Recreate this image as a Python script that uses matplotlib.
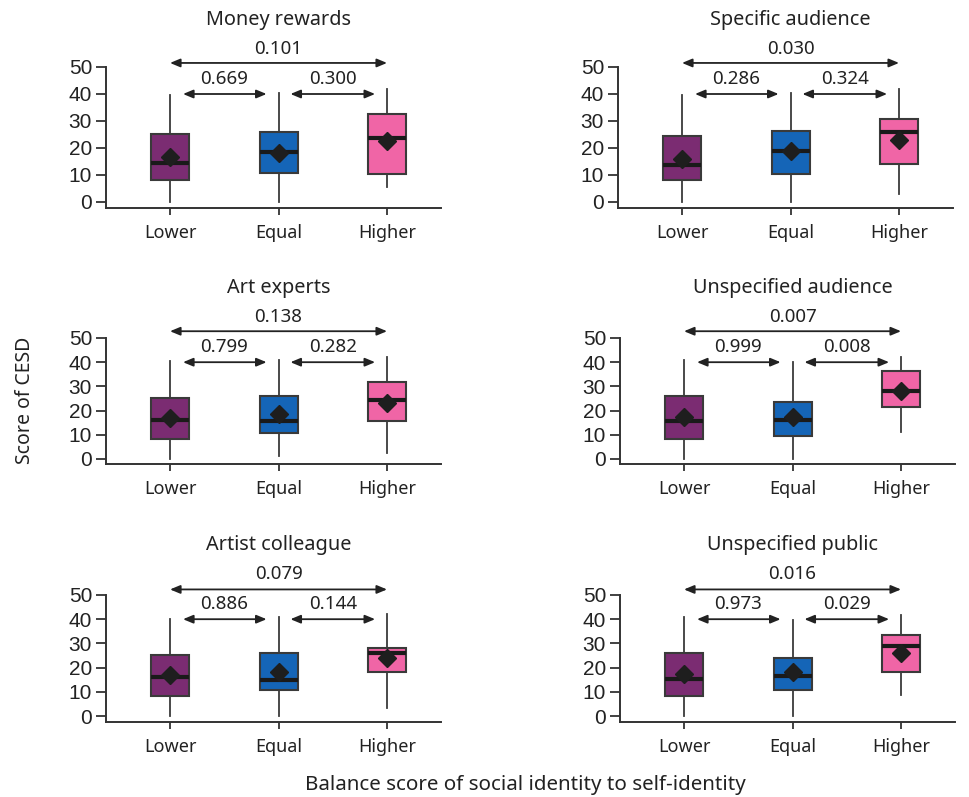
import matplotlib
matplotlib.use("Agg")
import matplotlib.pyplot as plt

# ---------------- data ----------------
groups = ["Lower", "Equal", "Higher"]
panel_titles = ["Money rewards", "Specific audience", "Art experts",
                "Unspecified audience", "Artist colleague", "Unspecified public"]

# per panel, per group: [whislo, q1, median, q3, whishi]
money_rewards = [[0, 8.0, 14.4, 25.0, 39.5], [0, 10.9, 18.5, 25.8, 40.4], [5.6, 10.2, 23.8, 32.7, 41.7]]
specific_audience = [[0, 8.0, 13.7, 24.3, 39.5], [0, 10.5, 18.9, 26.2, 40.4], [3.1, 14.0, 25.9, 30.6, 41.7]]
art_experts = [[0, 8.1, 16.0, 25.4, 40.6], [1.2, 10.9, 15.7, 26.1, 41.0], [2.3, 15.7, 24.2, 32.0, 42.0]]
unspecified_audience = [[0, 8.3, 15.5, 26.1, 41.0], [0, 9.3, 16.2, 23.6, 40.0], [11.0, 21.4, 28.3, 36.2, 42.0]]
artist_colleague = [[0, 8.1, 16.2, 25.1, 39.9], [0, 10.9, 14.8, 26.1, 41.0], [3.3, 18.0, 26.1, 28.2, 42.0]]
unspecified_public = [[0, 8.3, 15.1, 26.1, 41.0], [0, 10.9, 16.6, 24.0, 39.6], [8.6, 18.0, 29.0, 33.3, 41.6]]

means = [[16.7, 18.3, 22.6], [16.0, 18.9, 23.1], [17.1, 18.5, 23.3],
         [17.3, 17.5, 28.2], [16.9, 18.2, 24.0], [17.3, 18.0, 26.2]]

# p-values: [Lower-Equal, Equal-Higher, Lower-Higher]
p_values = [["0.669", "0.300", "0.101"], ["0.286", "0.324", "0.030"],
            ["0.799", "0.282", "0.138"], ["0.999", "0.008", "0.007"],
            ["0.886", "0.144", "0.079"], ["0.973", "0.029", "0.016"]]

yticks = [0, 10, 20, 30, 40, 50]
ylabel = "Score of CESD"
xlabel = "Balance score of social identity to self-identity"

all_stats = [money_rewards, specific_audience, art_experts,
             unspecified_audience, artist_colleague, unspecified_public]

# ---------------- style ----------------
colors = ["#7b2c72", "#1565b7", "#f065a6"]
edge = "#3a3a3a"
W, H = 970, 797
FONT = ["Noto Sans", "DejaVu Sans"]
NUMFONT = ["Liberation Sans", "DejaVu Sans"]

fig = plt.figure(figsize=(W / 100, H / 100), dpi=100)

# pixel layout: (spine_left_px, zero_px, px_per_unit, ymin)
layout = [
    (106, 202, 2.70, -2.3), (618, 202, 2.70, -2.3),
    (106, 459, 2.42, -2.2), (620, 459, 2.42, -2.2),
    (106, 716, 2.42, -2.5), (620, 716, 2.42, -2.5),
]
# per row annotation levels in data units: title, top text, top arrow, pair text, pair arrow
levels = [
    (67.4, 56.7, 51.5, 45.5, 40.0),
    (70.7, 58.6, 52.8, 46.3, 40.0),
    (70.7, 58.6, 52.3, 46.3, 40.0),
]

xmin, xmax = -0.59, 2.5
cat_px = 108.5
ymax = 60

for i in range(6):
    left_px, zero_px, ppu, ymin = layout[i]
    top_px = zero_px - ymax * ppu
    bot_px = zero_px - ymin * ppu
    w_px = (xmax - xmin) * cat_px
    ax = fig.add_axes([left_px / W, 1 - bot_px / H, w_px / W, (bot_px - top_px) / H])
    ax.set_xlim(xmin, xmax)
    ax.set_ylim(ymin, ymax)
    ax.patch.set_alpha(0)

    stats = []
    for g in range(3):
        lo, q1, med, q3, hi = all_stats[i][g]
        stats.append(dict(whislo=lo, q1=q1, med=med, q3=q3, whishi=hi,
                          mean=means[i][g], fliers=[], label=groups[g]))
    bp = ax.bxp(stats, positions=[0, 1, 2], widths=0.35, patch_artist=True,
                showmeans=True, showcaps=False, showfliers=False,
                boxprops=dict(edgecolor=edge, linewidth=1.5),
                whiskerprops=dict(color=edge, linewidth=1.3),
                medianprops=dict(color="#1a1a1a", linewidth=3),
                meanprops=dict(marker="D", markerfacecolor="#1e1e1e",
                               markeredgecolor="#1e1e1e", markersize=9.5))
    for patch, c in zip(bp["boxes"], colors):
        patch.set_facecolor(c)

    for s in ["top", "right"]:
        ax.spines[s].set_visible(False)
    for s in ["left", "bottom"]:
        ax.spines[s].set_linewidth(1.4)
        ax.spines[s].set_color("#333333")
    ax.spines["left"].set_bounds(ymin, 50)

    ax.set_yticks(yticks)
    ax.set_yticklabels([str(t) for t in yticks], fontfamily=NUMFONT, fontsize=15)
    ax.set_xticks([0, 1, 2])
    ax.set_xticklabels(groups, fontfamily=FONT, fontsize=13)
    ax.tick_params(axis="y", length=7, width=1.3, pad=3, colors="#333333", labelcolor="#222222")
    ax.tick_params(axis="x", length=5, width=1.3, pad=6.5, colors="#333333", labelcolor="#222222")

    row = i // 2
    t_y, top_txt, top_arr, pair_txt, pair_arr = levels[row]
    ax.text(1, t_y, panel_titles[i], ha="center", va="center", fontsize=14.3,
            fontfamily=FONT, color="#222222", clip_on=False)

    astyle = dict(arrowstyle="<|-|>,head_length=0.6,head_width=0.25",
                  color="#222222", lw=1.3, shrinkA=0, shrinkB=0)
    pairs = [(0.12, 0.89, pair_arr, 0.5, pair_txt, p_values[i][0]),
             (1.11, 1.89, pair_arr, 1.5, pair_txt, p_values[i][1]),
             (0.0, 2.0, top_arr, 1.0, top_txt, p_values[i][2])]
    for x0, x1, ya, xt, yt, lab in pairs:
        ax.annotate("", xy=(x1, ya), xytext=(x0, ya), arrowprops=astyle,
                    annotation_clip=False)
        ax.text(xt, yt, lab, ha="center", va="center", fontsize=13.5,
                fontfamily=FONT, color="#222222", clip_on=False)

fig.text(25 / W, 1 - 400 / H, ylabel, rotation=90, ha="center", va="center",
         fontsize=14, fontfamily=FONT, color="#222222")
fig.text(525 / W, 1 - 785 / H, xlabel, ha="center", va="center",
         fontsize=14.8, fontfamily=FONT, color="#222222")

fig.savefig("out.png", dpi=100)
